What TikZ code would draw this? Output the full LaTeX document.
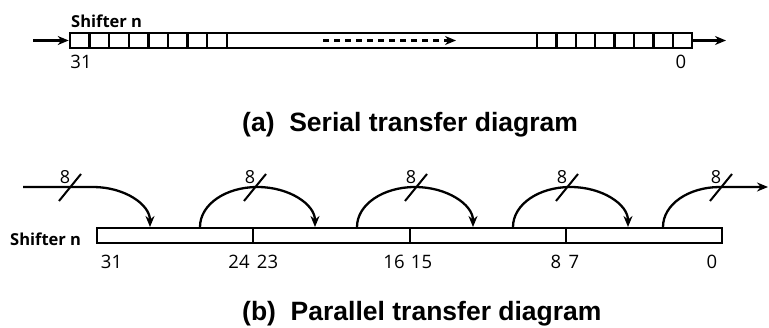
\documentclass[tikz,border=0pt]{standalone}
\usepackage{fontspec}
\setmainfont{Open Sans}
\newfontfamily\capfont{Liberation Sans}
\usetikzlibrary{arrows.meta}
\begin{document}
\begin{tikzpicture}[x=1pt,y=-1pt,
  bar/.style={draw,line width=2.6pt,rectangle,inner sep=0pt,minimum height=15pt},
  cell/.style={line width=2.4pt},
  flow/.style={line width=2.3pt,-{Stealth[length=11pt,width=9pt]}},
  slash/.style={line width=2pt},
  num/.style={font=\fontsize{18.5}{18.5}\selectfont,inner sep=0pt},
  lbl/.style={font=\fontsize{16.5}{16.5}\selectfont\bfseries,inner sep=0pt},
  captxt/.style={font=\capfont\fontsize{26.5}{26.5}\selectfont\bfseries,inner sep=0pt,anchor=base west},
  eight/.style={font=\fontsize{18}{18}\selectfont,inner sep=0pt}]
\useasboundingbox (0,0) rectangle (769,328);
% ---------- (a) serial ----------
\node[lbl,anchor=west] (sn1) at (71,21) {Shifter n};
\node[bar,minimum width=622pt] (serial) at (381,40.5) {};
\foreach \i in {1,...,8} \draw[cell] ({70+\i*19.6},33) -- ({70+\i*19.6},48);
\foreach \i in {0,...,7} \draw[cell] ({537+\i*19.4},33) -- ({537+\i*19.4},48);
\coordinate (inS) at (33,40.5);
\coordinate (outS) at (726,40.5);
\draw[flow] (inS) -- (serial.west);
\draw[flow] (serial.east) -- (outS);
\coordinate (d1) at (323,40.5);
\coordinate (d2) at (456,40.5);
\draw[flow,dash pattern=on 6pt off 5pt] (d1) -- (d2);
\node[num] (n31a) at (81,62) {31};
\node[num] (n0a) at (681,62) {0};
\node[captxt] (capa) at (242,131.5) {(a)\ \ Serial transfer diagram};
% ---------- (b) parallel ----------
\node[lbl,anchor=west] (sn2) at (10,239.5) {Shifter n};
\node[bar,minimum width=625pt] (par) at (409.5,235.5) {};
\foreach \x in {253,410,566} \draw[cell] (\x,228) -- (\x,243);
\foreach \x/\t/\n in {111.5/31/b31,239/24/b24,267.5/23/b23,394/16/b16,421.5/15/b15,556/8/b8,574/7/b7,712/0/b0}
  \node[num] (\n) at (\x,261.5) {\t};
% incoming
\coordinate (i0) at (23,187);
\coordinate (i1) at (93,187);
\coordinate (ie) at (150,227);
\draw[flow] (i0) -- (i1) .. controls +(31.5,0) and +(0,-22.6) .. (ie);
% arcs
\foreach \s/\c/\e/\k in {200/257.5/315/2,357/415/473/3,513/570.5/628/4}{
  \coordinate (a\k s) at (\s,227);
  \coordinate (a\k t) at (\c,187);
  \coordinate (a\k e) at (\e,227);
  \draw[flow] (a\k s) .. controls +(0,-22.6) and +(-31.8,0) .. (a\k t)
                      .. controls +(31.8,0) and +(0,-22.6) .. (a\k e);
}
% outgoing
\coordinate (o0) at (663,227);
\coordinate (o1) at (720,187);
\coordinate (oe) at (768,187);
\draw[flow] (o0) .. controls +(0,-22.6) and +(-31.5,0) .. (o1) -- (oe);
% slashes and widths
\foreach \x/\k in {70/1,255/2,416/3,567/4,721/5}{
  \coordinate (sl\k) at (\x,187.5);
  \draw[slash] (sl\k) +(-11,13.5) -- +(11,-13.5);
  \node[eight] (w\k) at (\x-5,177.5) {8};
}
\node[captxt] (capb) at (242,320.5) {(b)\ \ Parallel transfer diagram};
\end{tikzpicture}
\end{document}
